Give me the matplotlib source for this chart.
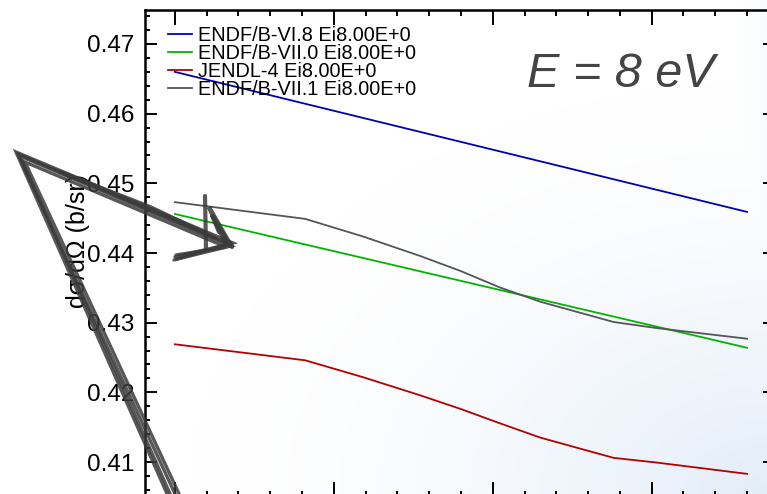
import numpy as np
import matplotlib
matplotlib.use("Agg")
import matplotlib.pyplot as plt
from matplotlib.ticker import MultipleLocator

plt.rcParams['font.family'] = ['Liberation Sans', 'DejaVu Sans']

# scattering angle (deg) and dsigma/dOmega (b/sr) at 8 eV
angle = [0, 41, 59, 77, 90, 102, 115, 138, 152, 180]
endf_b6 = [0.4660, 0.4459]
endf_b6_angle = [0, 180]
endf_b70 = [0.4456, 0.4264]
endf_b70_angle = [0, 180]
jendl4 = [0.4269, 0.4246, 0.4222, 0.4196, 0.4176, 0.4156, 0.4135, 0.4106, 0.4099, 0.4083]
endf_b71 = [0.4473, 0.4449, 0.4424, 0.4396, 0.4374, 0.4351, 0.4330, 0.4301, 0.4292, 0.4277]

labels = ["ENDF/B-VI.8 Ei8.00E+0", "ENDF/B-VII.0 Ei8.00E+0",
          "JENDL-4 Ei8.00E+0", "ENDF/B-VII.1 Ei8.00E+0"]
colors = ["#0000b4", "#00b400", "#b40000", "#555555"]

W, H = 767, 494
fig = plt.figure(figsize=(W / 100, H / 100), dpi=100)

# faint blue wash creeping in from the lower right corner
bg = fig.add_axes([0, 0, 1, 1], zorder=0)
gx, gy = np.meshgrid(np.linspace(0, 1, 300), np.linspace(0, 1, 200))
r = np.hypot((1 - gx) * 1.0, (1 - gy) * 0.9)
t = np.clip(1 - r / 0.75, 0, 1) ** 1.6
t = np.maximum(t, np.clip((gx - 0.96) / 0.04, 0, 1) * 0.2)
c0 = np.array([1.0, 1.0, 1.0])
c1 = np.array([0.89, 0.93, 0.975])
img = c0 + (c1 - c0) * t[..., None]
bg.imshow(img, extent=[0, 1, 0, 1], aspect='auto', origin='upper')
bg.axis('off')

ax = fig.add_axes([145 / W, -3 / H, 630 / W, 487 / H], zorder=1)
ax.patch.set_alpha(0)

ax.plot(endf_b6_angle, endf_b6, color=colors[0], lw=1.3, label=labels[0])
ax.plot(endf_b70_angle, endf_b70, color=colors[1], lw=1.3, label=labels[1])
ax.plot(angle, jendl4, color=colors[2], lw=1.3, label=labels[2])
ax.plot(angle, endf_b71, color=colors[3], lw=1.3, label=labels[3])

ax.set_xlim(-9.4, 188.8)
ax.set_ylim(0.40498, 0.47488)

ax.xaxis.set_major_locator(MultipleLocator(50))
ax.xaxis.set_minor_locator(MultipleLocator(10))
ax.yaxis.set_major_locator(MultipleLocator(0.01))
ax.yaxis.set_minor_locator(MultipleLocator(0.002))
ax.yaxis.set_major_formatter(plt.FuncFormatter(lambda v, p: f"{v:.2f}"))
ax.tick_params(which='both', direction='in', top=True, right=True,
               width=1.4, labelsize=17.5, pad=7.5)
ax.tick_params(axis='x', which='major', length=11)
ax.tick_params(axis='x', which='minor', length=4.5)
ax.tick_params(axis='y', which='major', length=8.5)
ax.tick_params(axis='y', which='minor', length=3.5)
ax.tick_params(axis='x', labelbottom=False)
for s in ax.spines.values():
    s.set_linewidth(1.8)

ax.set_ylabel("dσ/dΩ (b/sr)", fontsize=18)
ax.yaxis.set_label_coords(-0.087, 0.525)

ax.text(0.7556, 0.868, "E = 8 eV", transform=ax.transAxes, fontsize=35,
        style='italic', color='#444444', ha='center', va='center')

ax.legend(loc='upper left', frameon=False, fontsize=14.3, handlelength=1.2,
          handletextpad=0.3, labelspacing=-0.05, borderaxespad=0.0,
          borderpad=0.0, bbox_to_anchor=(0.037, 0.968))

# hand-drawn arrow scribbled over the axis
ov = fig.add_axes([0, 0, 1, 1], zorder=3)
ov.set_xlim(0, W)
ov.set_ylim(H, 0)
ov.axis('off')
ink = '#3b3b3b'
strokes = [
    [(176, 496), (18, 154), (229, 244), (175, 257)],
    [(171, 496), (20, 156), (231, 246), (177, 259)],
    [(180, 496), (25, 162), (226, 247), (176, 255)],
    [(168, 496), (16, 152), (233, 243), (174, 260)],
    [(60, 172), (150, 207), (215, 238)],
    [(232, 247), (209, 207), (215, 222), (226, 244)],
    [(230, 246), (212, 215), (219, 232)],
    [(205, 196), (206, 248)],
]
for k, pts in enumerate(strokes):
    xs, ys = zip(*pts)
    ov.plot(xs, ys, color=ink, lw=2.4 if k < 4 else 3.0, alpha=0.85,
            solid_joinstyle='miter', solid_capstyle='round')

fig.savefig("out.png", dpi=100)
